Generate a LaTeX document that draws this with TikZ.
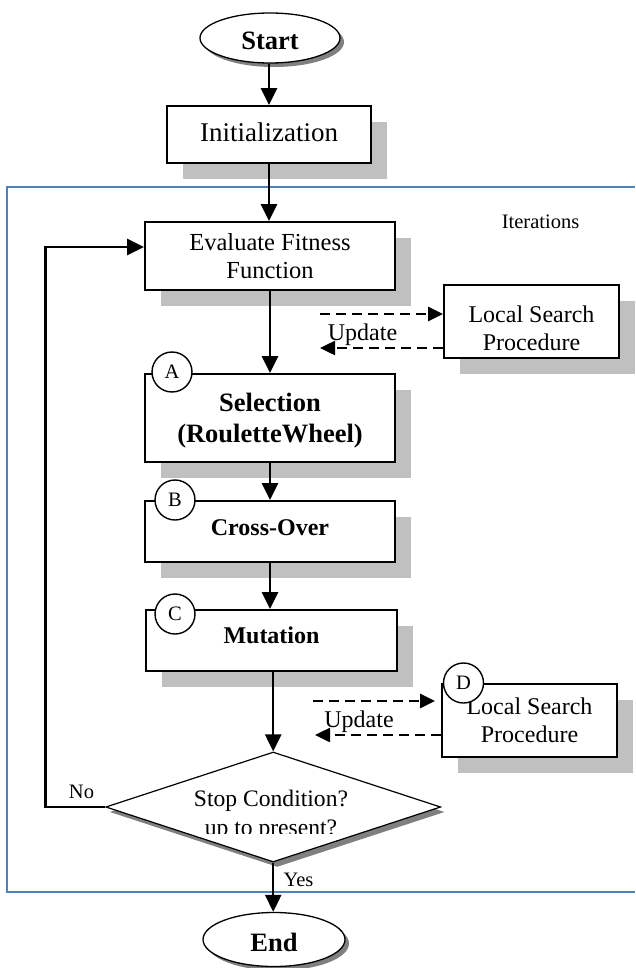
\documentclass[tikz,border=0pt]{standalone}
\usepackage{fontspec}
\setmainfont{Liberation Serif}
\usetikzlibrary{shapes.geometric,shadows,arrows.meta}
\definecolor{lightshade}{RGB}{192,192,192}
\definecolor{darkshade}{RGB}{128,128,128}
\definecolor{frameblue}{RGB}{79,129,189}
\begin{document}
\begin{tikzpicture}[x=1pt,y=-1pt,
  box/.style={draw, line width=1.8pt, fill=white, rectangle, inner sep=0pt,
    drop shadow={shadow xshift=16pt, shadow yshift=-16pt, fill=lightshade, opacity=1}},
  term/.style={draw, line width=1.3pt, fill=white, ellipse, inner sep=0pt,
    drop shadow={shadow xshift=4pt, shadow yshift=-4pt, fill=darkshade, opacity=1},
    font=\fontsize{26.5}{30}\selectfont\bfseries, text height=24pt, text depth=0pt},
  tag/.style={draw, circle, line width=1.4pt, fill=white, minimum size=40pt, inner sep=0pt,
    font=\fontsize{20.5}{24}\selectfont},
  arr/.style={line width=2.5pt, -{Triangle[length=17pt,width=16pt]}},
  darr/.style={line width=2.5pt, dash pattern=on 10pt off 6pt, -{Triangle[length=15pt,width=14pt]}},
  txt/.style={inner sep=0pt},
  regular/.style={font=\fontsize{24}{28}\selectfont},
  boldtext/.style={font=\fontsize{24}{28}\selectfont\bfseries},
  small/.style={font=\fontsize{20.5}{24}\selectfont},
]
\useasboundingbox (0,0) rectangle (635,968);

% iteration frame
\draw[frameblue, line width=1.6pt] (635,187) -- (7,187) -- (7,892) -- (635,892);

% terminals
\node[term, minimum width=140pt, minimum height=50pt] (start) at (270,38) {Start};
\node[term, minimum width=142pt, minimum height=54pt, text height=24.4pt] (end) at (274,939.5) {End};

% process boxes
\node[box, minimum width=204pt, minimum height=57pt, font=\fontsize{27}{30}\selectfont,
      text height=14.4pt, text depth=0pt] (init) at (269,134.5) {Initialization};
\node[box, minimum width=250pt, minimum height=68pt, align=center,
      font=\fontsize{24.5}{28.4}\selectfont] (eval) at (270,256) {Evaluate Fitness\\Function};
\node[box, minimum width=175pt, minimum height=73pt, align=center, regular]
      (ls1) at (531.5,321.5) {\rule{0pt}{30pt}Local Search\\Procedure};
\node[box, minimum width=250pt, minimum height=88pt, align=center,
      font=\fontsize{26.5}{31.6}\selectfont\bfseries] (sel) at (270,418)
      {\rule{0pt}{23.7pt}Selection\\(RouletteWheel)};
\node[box, minimum width=250pt, minimum height=61pt, boldtext,
      text height=10pt, text depth=3pt] (cross) at (270,531.5) {Cross-Over};
\node[box, minimum width=251pt, minimum height=61pt, boldtext,
      text height=8.6pt, text depth=3pt] (mut) at (271.5,640.5) {Mutation};
\node[box, minimum width=175pt, minimum height=73pt, align=center, regular]
      (ls2) at (529.5,720.5) {Local Search\\Procedure};

% decision
\node[diamond, draw, line width=1.2pt, fill=white, minimum width=335pt, minimum height=110pt,
      aspect=3.05, inner sep=0pt,
      drop shadow={shadow xshift=4pt, shadow yshift=-5pt, fill=darkshade, opacity=1}]
      (stop) at (273.2,807) {};
\node[txt, font=\fontsize{23.6}{28}\selectfont, anchor=base] (stopa) at (271,806) {Stop Condition?};
\begin{scope}
  \clip (150,812) rectangle (400,833);
  \node[txt, font=\fontsize{23.6}{28}\selectfont, anchor=base] (stopb) at (271,835) {up to present?};
\end{scope}

% tags
\node[tag] (ta) at (172,372) {A};
\node[tag] (tb) at (175,500) {B};
\node[tag] (tc) at (175,614) {C};
\node[tag] (td) at (463.5,683) {D};

% labels
\node[txt, small] (iter) at (540.5,222) {Iterations};
\node[txt, small] (no) at (81.5,792) {No};
\node[txt, small] (yes) at (298.5,880) {Yes};
\node[txt, regular] (upd1) at (362.5,334.5) {Update};
\node[txt, regular] (upd2) at (359,722) {Update};

% main flow
\draw[arr] (start.south -| init.north) -- (init.north);
\draw[arr] (init.south) -- (init.south |- eval.north);
\draw[arr] (eval.south) -- (sel.north);
\draw[arr] (sel.south) -- (cross.north);
\draw[arr] (cross.south) -- (mut.north -| cross.south);
\draw[arr] (mut.south -| stop.north) -- (stop.north);
\draw[arr] (stop.south) -- (stop.south |- end.north);

% loop back
\coordinate (loopc) at (45.7,247);
\draw[arr] (stop.west) -| (loopc) -- (loopc -| eval.west);

% local search exchanges
\coordinate (u1a) at (320,314);
\coordinate (u1b) at (320,348);
\draw[darr] (u1a) -- (u1a -| ls1.west);
\draw[darr] (u1b -| ls1.west) -- (u1b);
\coordinate (u2a) at (313,701);
\coordinate (u2b) at (315,735);
\draw[darr] (u2a) -- ([xshift=-6pt]u2a -| ls2.west);
\draw[darr] (u2b -| ls2.west) -- (u2b);
\end{tikzpicture}
\end{document}
